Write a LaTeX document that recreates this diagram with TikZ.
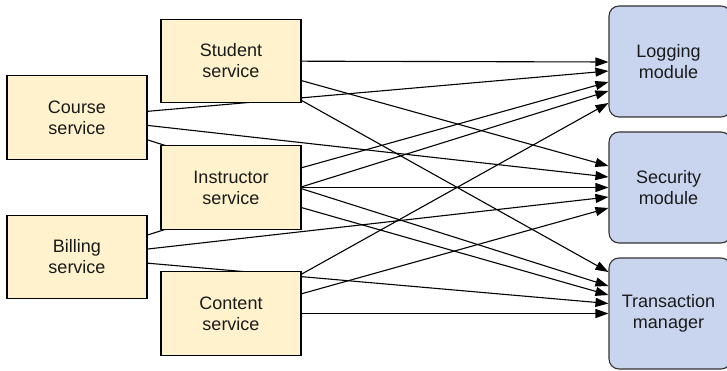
\documentclass[tikz,border=0pt]{standalone}
\usepackage{fontspec}
\setmainfont{Liberation Sans}
\usetikzlibrary{arrows.meta}
\pgfdeclarelayer{background}
\pgfsetlayers{background,main}
\definecolor{svcfill}{HTML}{FFF2CC}
\definecolor{modfill}{HTML}{C9D5EE}
\definecolor{modline}{HTML}{333333}
\definecolor{txt}{HTML}{1A1A1A}
\tikzset{
  svc/.style={draw=black, line width=1.1pt, fill=svcfill, minimum width=140pt, minimum height=83.5pt, inner sep=0pt, align=center, font=\fontsize{18}{21}\selectfont, text=txt},
  mod/.style={draw=modline, line width=1.1pt, fill=modfill, rounded corners=10pt, minimum width=122pt, minimum height=111pt, inner sep=0pt, align=center, font=\fontsize{18}{21}\selectfont, text=txt},
  link/.style={line width=1.1pt, draw=black, -{Triangle[length=13pt,width=9pt]}}
}
\begin{document}
\begin{tikzpicture}[x=1pt,y=-1pt]
\useasboundingbox (0,0) rectangle (727,371);
\node[svc] (stu) at (231,61) {Student\\service};
\node[svc] (cou) at (77,117.5) {Course\\service};
\node[svc] (ins) at (231,187.5) {Instructor\\service};
\node[svc] (bil) at (77,257) {Billing\\service};
\node[svc] (con) at (231,313.5) {Content\\service};
\node[mod] (log) at (670,61.5) {\hspace*{-3pt}Logging\\\hspace*{-3pt}module};
\node[mod] (sec) at (670,187.5) {\hspace*{-3pt}Security\\\hspace*{-3pt}module};
\node[mod] (tra) at (670,313.5) {\hspace*{-3pt}Transaction\\\hspace*{-3pt}manager};
\begin{pgfonlayer}{background}
% to Logging
\draw[link] (stu.center) -- ([yshift=-0.5pt]log.west);
\draw[link] (cou.center) -- ([yshift=-9.5pt]log.west);
\draw[link] (ins.center) -- ([yshift=-20.5pt]log.west);
\draw[link] (bil.center) -- ([yshift=-29.5pt]log.west);
\draw[link] (con.center) -- ([yshift=-41.5pt]log.west);
% to Security
\draw[link] (stu.center) -- ([yshift=21.5pt]sec.west);
\draw[link] (cou.center) -- ([yshift=10.5pt]sec.west);
\draw[link] (ins.center) -- (sec.west);
\draw[link] (bil.center) -- ([yshift=-9.5pt]sec.west);
\draw[link] (con.center) -- ([yshift=-20.5pt]sec.west);
% to Transaction
\draw[link] (stu.center) -- ([yshift=41.5pt]tra.west);
\draw[link] (cou.center) -- ([yshift=27.5pt]tra.west);
\draw[link] (ins.center) -- ([yshift=18.5pt]tra.west);
\draw[link] (bil.center) -- ([yshift=10pt]tra.west);
\draw[link] (con.center) -- (tra.west);
\end{pgfonlayer}
\end{tikzpicture}
\end{document}
